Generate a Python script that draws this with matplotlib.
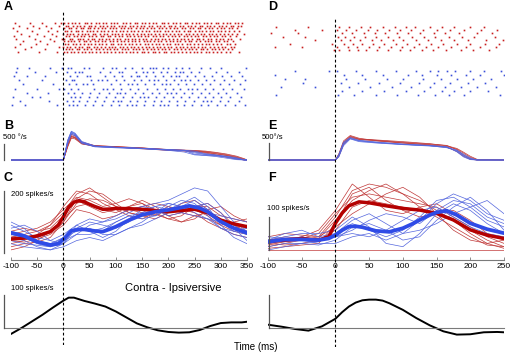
import numpy as np
import matplotlib
matplotlib.use("Agg")
import matplotlib.pyplot as plt

W, H = 511, 353

# ---------------------------------------------------------------- raster data (ms)
raster_a_red = [
    "-93 -64 -41 -17 -4 2 8 17 22 30 41 45 52 62 68 76 81 90 97 103 114 119 126 136 141 149 155 164 171 177 188 192 200 209 214 223 231 236 246 252 259 268 273 282 290 295 305 311 318 327 332 341",
    "-85 -58 -33 -9 4 9 18 26 31 39 48 53 60 70 75 83 91 96 106 112 118 127 133 140 148 154 163 169 178 184 191 201 205 213 222 228 237 243 250 260 265 274 280 287 297 302 310 319 324 333 339",
    "-97 -70 -47 -24 1 11 15 23 33 37 46 51 59 66 74 79 89 94 101 110 116 124 129 138 146 151 159 167 173 182 187 196 203 211 217 226 232 241 247 256 261 270 278 283 292 300 306 315 322 330",
    "-88 -60 -29 -12 3 7 14 24 28 36 44 50 57 64 72 78 85 93 100 107 113 122 128 135 143 150 158 163 172 179 185 194 199 207 215 221 229 238 242 251 258 264 272 279 286 294 301 309 316 325 335",
    "-80 -50 -22 0 6 13 19 28 35 42 47 56 61 70 77 83 92 99 104 111 120 125 132 140 147 153 161 166 175 182 189 195 204 210 218 225 234 239 247 255 262 268 277 284 291 299 306 314 321 331 344",
    "-95 -66 -37 -14 5 10 20 25 34 40 49 55 63 71 76 85 89 98 105 111 121 126 134 142 147 156 162 170 176 185 190 199 207 212 220 229 235 244 250 257 266 271 280 288 293 303 308 317 329",
    "-90 -55 -26 -3 2 12 16 27 32 38 47 54 58 67 73 82 87 95 103 108 117 123 130 137 145 152 157 166 174 180 188 193 202 209 216 224 230 238 245 254 259 267 275 281 290 298 304 313 320 336",
    "-77 -44 -18 1 8 15 21 29 39 43 51 60 65 73 80 88 94 102 109 115 124 131 136 144 153 160 165 173 181 186 195 203 208 217 223 232 240 244 253 260 269 276 282 291 296 307 312 323",
    "-83 -52 -31 3 9 19 24 31 40 46 53 61 68 74 82 90 95 104 110 118 125 131 139 146 155 161 168 176 183 189 198 204 213 219 227 236 241 249 256 264 272 278 285 293 300 311 318 328",
    "-92 -62 -8 0 7 12 22 29 35 44 49 58 64 71 79 86 92 99 108 114 121 129 134 142 150 157 163 171 179 184 192 200 206 214 222 228 235 243 248 257 265 270 279 287 294 302 309 319 326",
    "-74 -35 4 10 17 25 30 39 45 52 62 67 75 83 88 97 102 111 117 123 132 138 145 151 160 167 172 181 187 194 202 210 216 225 231 239 246 252 262 267 274 283 289 297 305 313 322",
    "-86 -47 -12 2 6 14 20 27 36 41 48 55 63 69 77 84 91 98 106 112 119 127 133 141 149 154 162 170 175 183 191 196 205 211 219 227 233 242 248 255 263 271 277 286 292 301 310 317 334",
]
raster_a_blue = [
    "-88 -65 -25 -2 8 15 40 48 75 92 100 118 130 150 165 170 176 190 200 214 226 240 262 280 300 348",
    "-90 -55 -15 6 22 30 36 70 88 105 112 138 152 160 170 186 198 212 222 228 244 258 290 312 335",
    "-95 -70 -35 12 26 45 50 80 96 112 128 140 145 158 174 190 206 214 220 236 250 268 284 302 320 340",
    "-85 -40 4 16 20 52 66 74 84 100 116 134 148 164 172 180 195 210 225 232 242 256 272 288 306 326 346",
    "-78 -20 10 24 38 44 56 90 108 124 130 140 156 172 188 196 204 218 234 248 264 280 298 316 336",
    "-92 -50 -8 2 14 28 58 76 84 94 110 126 142 160 178 194 208 222 238 246 254 270 286 304 322 344",
    "-70 -30 8 20 36 50 68 86 102 108 118 136 152 168 182 198 206 214 230 246 262 278 294 310 330",
    "-96 -60 -45 14 22 32 48 64 82 98 114 130 146 154 162 176 192 208 224 240 256 270 286 300 318 338",
    "-82 -28 6 18 30 44 60 78 94 104 110 126 140 156 172 186 202 216 232 248 266 274 282 298 314 334",
    "-98 -74 -12 10 18 26 42 56 74 90 106 122 130 138 154 170 184 192 200 216 230 246 262 276 292 308 328 347",
]
raster_d_red = [
    "-88 -40 5 20 38 52 70 88 104 118 140 158 176 200 220",
    "-60 -20 2 16 30 48 62 80 96 112 130 150 170 190 216 240",
    "-95 -55 10 24 42 58 74 92 108 126 146 162 184 210 232",
    "-78 -45 4 14 28 44 60 78 94 114 132 148 168 188 206 236",
    "-30 8 22 36 54 68 86 100 120 138 156 176 196 224 248",
    "-68 -5 12 26 40 56 72 90 106 124 142 160 180 200 222 242",
    "-90 -50 2 18 32 50 64 82 98 116 134 152 172 194 214 238",
    "-2 6 20 34 46 62 78 96 110 128 144 164 186 204 228",
]
raster_d_blue = [
    "-60 -10 2 30 60 90 120 140 152 166 178 200 220 246",
    "-90 12 40 70 108 128 150 172 194 214 250",
    "-75 -45 16 44 76 100 130 156 180 204 230",
    "-48 8 34 64 96 124 146 170 196 222",
    "-80 -30 20 52 84 112 140 162 186 210 238",
    "10 40 72 104 132 158 176 200 226",
    "-88 4 28 60 92 122 148 168 190 244",
]

# ---------------------------------------------------------------- eye velocity (deg/s)
t_vel_b = [-100, 0, 8, 15, 22, 35, 60, 100, 150, 200, 230, 250, 270, 290, 310, 330, 345, 350]
vel_b_red = [
    [0, 0, 520, 800, 760, 560, 450, 420, 380, 320, 300, 280, 250, 200, 150, 80, 10, 0],
    [0, 0, 450, 720, 700, 520, 420, 400, 360, 310, 290, 270, 240, 190, 140, 70, 0, 0],
    [0, 0, 400, 680, 660, 500, 430, 410, 370, 330, 310, 300, 280, 240, 190, 120, 40, 0],
    [0, 0, 480, 760, 720, 540, 440, 400, 350, 300, 280, 260, 220, 160, 90, 30, 0, 0],
    [0, 0, 430, 740, 690, 510, 450, 415, 375, 325, 305, 290, 265, 225, 170, 100, 25, 0],
]
vel_b_blue = [
    [0, 0, 600, 880, 820, 560, 430, 400, 370, 330, 300, 180, 150, 130, 100, 40, 0, 0],
    [0, 0, 560, 840, 800, 540, 420, 390, 360, 320, 310, 250, 180, 150, 110, 50, 0, 0],
    [0, 0, 500, 800, 760, 520, 410, 380, 350, 310, 300, 280, 200, 160, 120, 70, 10, 0],
    [0, 0, 620, 900, 840, 580, 440, 400, 360, 300, 250, 160, 140, 110, 60, 10, 0, 0],
    [0, 0, 540, 860, 780, 550, 425, 395, 365, 315, 290, 220, 170, 140, 90, 30, 0, 0],
]
t_vel_e = [-100, 0, 5, 12, 22, 35, 60, 100, 140, 165, 180, 190, 200, 210, 250]
vel_e_red = [
    [0, 0, 150, 520, 700, 620, 580, 520, 470, 430, 300, 150, 40, 0, 0],
    [0, 0, 100, 450, 660, 600, 560, 500, 450, 400, 320, 200, 80, 10, 0],
    [0, 0, 180, 560, 720, 640, 570, 500, 440, 380, 250, 110, 20, 0, 0],
    [0, 0, 120, 480, 680, 610, 590, 540, 480, 420, 340, 230, 110, 20, 0],
]
vel_e_blue = [
    [0, 0, 140, 500, 640, 560, 520, 460, 420, 380, 260, 120, 20, 0, 0],
    [0, 0, 90, 420, 620, 540, 500, 450, 410, 370, 290, 170, 60, 0, 0],
    [0, 0, 160, 520, 660, 580, 530, 470, 430, 390, 240, 90, 10, 0, 0],
    [0, 0, 110, 460, 630, 570, 510, 460, 420, 360, 280, 140, 40, 0, 0],
]

# ---------------------------------------------------------------- firing rates (spikes/s)
t_rate_c = [-100, -75, -50, -25, 0, 25, 50, 75, 100, 125, 150, 175, 200, 225, 250, 275, 300, 325, 350]
rate_c_red = [
    [30, 40, 60, 90, 150, 200, 190, 160, 140, 150, 170, 150, 120, 100, 110, 140, 150, 120, 100],
    [60, 70, 80, 100, 140, 180, 170, 150, 160, 175, 160, 130, 110, 120, 150, 160, 130, 90, 70],
    [20, 30, 35, 50, 100, 160, 175, 170, 150, 130, 120, 110, 130, 160, 170, 140, 100, 80, 90],
    [50, 60, 70, 90, 130, 190, 210, 180, 150, 140, 150, 160, 150, 130, 120, 110, 90, 100, 110],
    [40, 35, 45, 60, 90, 140, 130, 110, 120, 140, 130, 120, 140, 150, 140, 120, 90, 70, 60],
    [70, 80, 70, 80, 120, 170, 150, 130, 140, 120, 110, 130, 150, 140, 130, 100, 80, 60, 50],
    [10, 20, 40, 70, 110, 150, 160, 140, 130, 150, 160, 140, 120, 130, 150, 150, 120, 110, 100],
    [55, 45, 50, 65, 100, 175, 200, 190, 160, 130, 120, 125, 110, 100, 120, 130, 110, 90, 80],
]
rate_c_blue = [
    [80, 90, 70, 40, 30, 60, 90, 100, 120, 140, 150, 160, 170, 190, 210, 200, 150, 100, 70],
    [50, 40, 20, 10, 30, 80, 100, 90, 80, 100, 130, 150, 160, 150, 140, 130, 120, 110, 100],
    [90, 70, 50, 40, 60, 90, 70, 50, 70, 110, 140, 150, 140, 160, 180, 150, 90, 50, 30],
    [40, 30, 25, 20, 40, 60, 60, 70, 100, 120, 110, 120, 150, 170, 160, 120, 80, 70, 80],
    [70, 60, 40, 30, 50, 70, 80, 60, 60, 80, 100, 130, 160, 150, 130, 110, 100, 90, 60],
    [60, 50, 30, 20, 30, 90, 110, 100, 110, 130, 150, 140, 120, 130, 150, 160, 130, 80, 40],
    [30, 20, 15, 10, 20, 40, 50, 40, 60, 80, 90, 110, 130, 150, 170, 140, 100, 70, 60],
    [100, 80, 40, 25, 50, 80, 70, 80, 100, 120, 130, 120, 140, 130, 120, 110, 80, 60, 50],
]
t_mean_c_red = [-100, -75, -50, -25, -10, 0, 10, 20, 30, 40, 50, 60, 75, 90, 100, 125, 150, 175, 200, 225, 250, 275, 300, 325, 350]
mean_c_red = [45, 48, 55, 69, 90, 117, 148, 164, 169, 165, 157, 150, 141, 142, 144, 143, 141, 137, 133, 137, 141, 130, 106, 94, 85]
t_mean_c_blue = [-100, -75, -50, -25, -10, 0, 15, 30, 40, 60, 75, 90, 100, 125, 150, 175, 200, 225, 240, 260, 275, 300, 325, 350]
mean_c_blue = [65, 55, 36, 26, 30, 44, 72, 76, 76, 71, 69, 78, 85, 106, 123, 133, 139, 147, 152, 145, 133, 101, 80, 65]

t_rate_f = [-100, -75, -50, -25, 0, 25, 50, 75, 100, 125, 150, 175, 200, 225, 250]
rate_f_red = [
    [10, 20, 30, 40, 100, 180, 200, 190, 170, 150, 120, 90, 60, 30, 10],
    [30, 40, 35, 50, 110, 160, 170, 160, 150, 140, 130, 100, 70, 40, 20],
    [20, 15, 20, 30, 60, 130, 150, 140, 130, 120, 110, 90, 50, 20, 5],
    [40, 50, 45, 40, 70, 110, 140, 170, 190, 160, 110, 60, 30, 20, 30],
    [5, 10, 15, 20, 80, 170, 190, 150, 120, 100, 110, 120, 90, 50, 30],
    [25, 30, 40, 60, 120, 200, 160, 120, 110, 130, 140, 110, 80, 60, 50],
    [0, 0, 0, 0, 0, 0, 0, 0, 0, 0, 0, 0, 0, 0, 0],
    [15, 25, 30, 35, 90, 150, 180, 200, 170, 130, 100, 70, 40, 15, 10],
]
rate_f_blue = [
    [30, 50, 60, 40, 50, 80, 60, 40, 60, 100, 150, 160, 130, 90, 70],
    [20, 30, 40, 30, 40, 60, 90, 110, 100, 80, 120, 150, 140, 100, 80],
    [40, 35, 30, 20, 20, 40, 50, 30, 50, 90, 140, 170, 150, 110, 90],
    [10, 20, 20, 15, 30, 70, 80, 60, 30, 40, 90, 130, 160, 120, 60],
    [30, 40, 50, 50, 60, 100, 70, 20, 10, 50, 110, 140, 120, 80, 50],
    [25, 25, 30, 30, 40, 50, 40, 60, 90, 120, 130, 100, 70, 50, 40],
    [0, 10, 20, 25, 50, 90, 110, 80, 50, 60, 80, 110, 130, 150, 110],
]
t_mean_f_red = [-100, -75, -50, -25, -10, 0, 10, 20, 35, 50, 75, 100, 125, 150, 175, 200, 225, 250]
mean_f_red = [25, 30, 35, 30, 40, 81, 112, 134, 146, 143, 134, 126, 121, 111, 91, 61, 45, 35]
t_mean_f_blue = [-100, -75, -50, -25, -10, 0, 10, 20, 30, 40, 60, 80, 100, 115, 125, 140, 150, 165, 180, 200, 225, 250]
mean_f_blue = [25, 32, 32, 30, 35, 45, 60, 71, 72, 69, 58, 55, 66, 80, 91, 106, 114, 119, 106, 81, 63, 51]

# ---------------------------------------------------------------- contra - ipsi difference
t_diff_c = [-100, -80, -60, -40, -20, 0, 10, 20, 40, 60, 80, 100, 120, 140, 160, 180, 200, 220, 240, 260, 280, 300, 320, 340, 350]
diff_c = [-18, 0, 20, 40, 62, 83, 92, 92, 82, 74, 65, 50, 32, 14, 2, -7, -12, -14, -13, -6, 6, 15, 17, 17, 19]
t_diff_f = [-100, -80, -60, -40, -20, 0, 10, 20, 30, 40, 50, 60, 70, 80, 100, 120, 140, 160, 180, 200, 220, 240, 250]
diff_f = [10, 4, -3, -8, 5, 28, 48, 65, 77, 84, 86, 86, 83, 75, 55, 30, 8, -10, -20, -19, -13, -12, -13]

ticks_c = [-100, -50, 0, 50, 100, 150, 200, 250, 300, 350]
ticks_f = [-100, -50, 0, 50, 100, 150, 200, 250]

RED = "#c81e1e"
BLUE = "#3a4fd8"
THIN_RED = "#c03838"
THIN_BLUE = "#5466de"
GRAY = "#7a7a7a"

plt.rcParams["font.family"] = "Liberation Sans"
plt.rcParams["axes.unicode_minus"] = False

fig = plt.figure(figsize=(W / 100, H / 100), dpi=100)


def add_ax(left, top, width, height):
    # position given in pixels from the top-left corner
    ax = fig.add_axes([left / W, 1 - (top + height) / H, width / W, height / H])
    ax.patch.set_alpha(0)
    return ax


def ftext(x, y, s, **kw):
    fig.text(x / W, 1 - y / H, s, **kw)


def blank(ax):
    for sp in ax.spines.values():
        sp.set_visible(False)
    ax.set_xticks([])
    ax.set_yticks([])


def raster(ax, rows, color, xlim):
    for i, row in enumerate(rows):
        times = [float(v) for v in row.split()]
        ax.plot(times, [i] * len(times), ls="none", marker="s", ms=1.2, mew=0,
                color=color)
    ax.set_xlim(*xlim)
    ax.set_ylim(len(rows) - 0.5, -0.5)
    blank(ax)


columns = [
    dict(left=11, xlim=(-100, 350), ticks=ticks_c,
         red_rows=raster_a_red, blue_rows=raster_a_blue,
         red_box=(22, 31), blue_box=(66, 41),
         t_vel=t_vel_b, vel_red=vel_b_red, vel_blue=vel_b_blue, vel_px=31.25,
         t_rate=t_rate_c, rate_red=rate_c_red, rate_blue=rate_c_blue,
         t_mr=t_mean_c_red, mr=mean_c_red, t_mb=t_mean_c_blue, mb=mean_c_blue,
         rate_zero=253, rate_px=0.31, rate_bar=200,
         t_diff=t_diff_c, diff=diff_c, bar_x=-113, dash=(12, 345)),
    dict(left=268, xlim=(-100, 250), ticks=ticks_f,
         red_rows=raster_d_red, blue_rows=raster_d_blue,
         red_box=(25, 27), blue_box=(69, 28),
         t_vel=t_vel_e, vel_red=vel_e_red, vel_blue=vel_e_blue, vel_px=29.4,
         t_rate=t_rate_f, rate_red=rate_f_red, rate_blue=rate_f_blue,
         t_mr=t_mean_f_red, mr=mean_f_red, t_mb=t_mean_f_blue, mb=mean_f_blue,
         rate_zero=250, rate_px=0.33, rate_bar=100,
         t_diff=t_diff_f, diff=diff_f, bar_x=-98, dash=(18, 347)),
]

for col in columns:
    left, xlim = col["left"], col["xlim"]
    width = 236

    # A / D rasters
    ax = add_ax(left, col["red_box"][0], width, col["red_box"][1])
    raster(ax, col["red_rows"], RED, xlim)
    ax = add_ax(left, col["blue_box"][0], width, col["blue_box"][1])
    raster(ax, col["blue_rows"], BLUE, xlim)

    # B / E eye velocity: baseline at y=160 px
    ax = add_ax(left, 125, width, 40)
    for v in col["vel_red"]:
        ax.plot(col["t_vel"], v, color=THIN_RED, lw=0.5)
    for v in col["vel_blue"]:
        ax.plot(col["t_vel"], v, color=THIN_BLUE, lw=0.5)
    ax.plot([col["bar_x"]] * 2, [0, 500], color="#555555", lw=0.9, clip_on=False)
    ax.set_xlim(*xlim)
    ax.set_ylim(-5 * col["vel_px"], 35 * col["vel_px"])
    blank(ax)

    # C / F firing rate
    top, bottom = 180, 260
    ax = add_ax(left, top, width, bottom - top)
    for r in col["rate_red"]:
        ax.plot(col["t_rate"], r, color=THIN_RED, lw=0.5)
    for r in col["rate_blue"]:
        ax.plot(col["t_rate"], r, color=THIN_BLUE, lw=0.5)
    ax.plot(col["t_mr"], col["mr"], color="#b40000", lw=2.5, solid_capstyle="round")
    ax.plot(col["t_mb"], col["mb"], color="#2f4be6", lw=2.7, solid_capstyle="round")
    ax.plot([col["bar_x"]] * 2, [0, col["rate_bar"]], color="#555555", lw=0.9,
            clip_on=False)
    ax.set_xlim(*xlim)
    ax.set_ylim(-(bottom - col["rate_zero"]) / col["rate_px"],
                (col["rate_zero"] - top) / col["rate_px"])
    for name in ("top", "right", "left"):
        ax.spines[name].set_visible(False)
    ax.spines["bottom"].set_color(GRAY)
    ax.spines["bottom"].set_linewidth(0.8)
    ax.set_yticks([])
    ax.set_xticks(col["ticks"])
    ax.tick_params(axis="x", direction="in", length=2, width=0.6, color=GRAY,
                   labelsize=6, pad=2)

    # contra - ipsi difference
    top, bottom = 288, 340
    ax = add_ax(left, top, width, bottom - top)
    ax.plot(col["t_diff"], col["diff"], color="black", lw=1.4)
    ax.plot([col["bar_x"], xlim[1]], [0, 0], color=GRAY, lw=0.8, clip_on=False)
    ax.plot([col["bar_x"]] * 2, [0, 100], color="#555555", lw=0.9, clip_on=False)
    ax.set_xlim(*xlim)
    ax.set_ylim(-(bottom - 328) / 0.33, (328 - top) / 0.33)
    blank(ax)

    # dashed line at saccade onset through all rows
    d0, d1 = col["dash"]
    ax = add_ax(left, d0, width, d1 - d0)
    ax.axvline(0, color="black", lw=0.8, ls=(0, (2.5, 2)))
    ax.set_xlim(*xlim)
    blank(ax)

# panel letters
for letter, x, y in [("A", 4, 7), ("B", 4, 126), ("C", 4, 178),
                     ("D", 268, 7), ("E", 268, 126), ("F", 268, 178)]:
    ftext(x, y, letter, fontsize=9, fontweight="bold", va="center", ha="left")

ftext(3, 137, "500 °/s", fontsize=5.5, va="center", ha="left")
ftext(262, 137, "500°/s", fontsize=5.5, va="center", ha="left")
ftext(11, 195, "200 spikes/s", fontsize=5.5, va="center", ha="left")
ftext(267, 208, "100 spikes/s", fontsize=5.5, va="center", ha="left")
ftext(11, 288, "100 spikes/s", fontsize=5.5, va="center", ha="left")
ftext(173, 288, "Contra - Ipsiversive", fontsize=8, va="center", ha="center")
ftext(256, 347, "Time (ms)", fontsize=7, va="center", ha="center")

fig.savefig("out.png", dpi=100)
